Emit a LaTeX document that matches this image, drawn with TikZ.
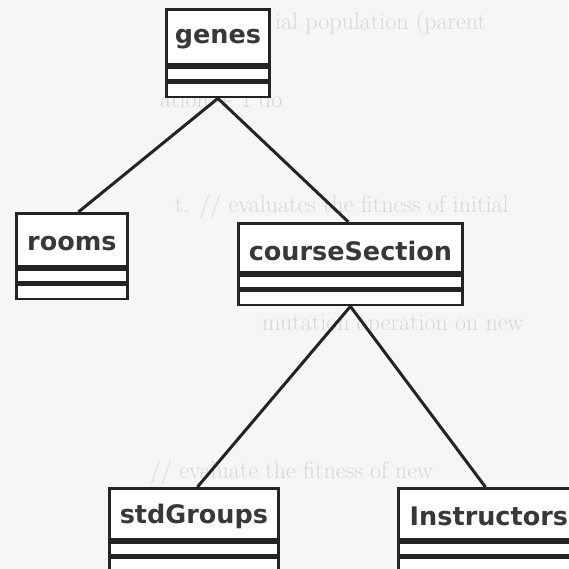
\documentclass[tikz,border=0pt]{standalone}
\usepackage{fontspec}
\newfontfamily\classfont{DejaVu Sans}

\definecolor{ink}{RGB}{36,36,36}
\definecolor{paper}{RGB}{246,246,244}
\definecolor{ghost}{RGB}{214,214,212}

\tikzset{
  classname/.style={draw=ink, line width=2.8pt, fill=white, anchor=north west,
    inner sep=0pt, text=black!78, text height=13pt, text depth=0pt,
    font=\classfont\bfseries\fontsize{25.5}{25.5}\selectfont},
  compart/.style={draw=ink, line width=2.8pt, fill=white, anchor=north,
    inner sep=0pt},
  link/.style={draw=ink, line width=3pt},
  ghosttext/.style={anchor=base west, inner sep=0pt, text=ghost,
    font=\fontsize{24}{24}\selectfont}
}

% UML class box: name, left x, top y, width, title height, text drop, label
\newcommand\umlclass[7]{%
  \node[classname, minimum width=#4, minimum height=#5] (#1) at (#2,#3)
    {\raisebox{-#6}{#7}};
  \node[compart, minimum width=#4, minimum height=13pt] (#1-attr) at (#1.south) {};
  \node[compart, minimum width=#4, minimum height=14pt] (#1-ops) at (#1-attr.south) {};
}

\begin{document}
\begin{tikzpicture}[x=1pt, y=-1pt]
  \fill[paper] (0,0) rectangle (568,569);
  \useasboundingbox (0,0) rectangle (568,569);

  % faint print from the facing page
  \node[ghosttext] (g1) at (275,30) {ial population (parent};
  \node[ghosttext] (g2) at (160,108) {ation + 1 do};
  \node[ghosttext] (g3) at (175,212) {t. // evaluates the fitness of initial};
  \node[ghosttext] (g4) at (262,330) {mutation operation on new};
  \node[ghosttext] (g5) at (150,478) {// evaluate the fitness of new};

  % class boxes
  \umlclass{genes}{165}{8}{103pt}{55pt}{0pt}{genes}
  \umlclass{rooms}{15}{212}{111pt}{53pt}{4pt}{rooms}
  \umlclass{course}{237}{222}{224pt}{49pt}{6pt}{courseSection}
  \umlclass{groups}{108}{487}{169pt}{51pt}{3pt}{stdGroups}
  \umlclass{instr}{397}{487}{181pt}{51pt}{5pt}{Instructors}

  % associations
  \draw[link] (genes-ops.south) -- ([xshift=6.5pt]rooms.north);
  \draw[link] (genes-ops.south) -- ([xshift=-2pt]course.north);
  \draw[link] (course-ops.south) -- ([xshift=3.5pt]groups.north);
  \draw[link] (course-ops.south) -- ([xshift=-3.5pt]instr.north);
\end{tikzpicture}
\end{document}
